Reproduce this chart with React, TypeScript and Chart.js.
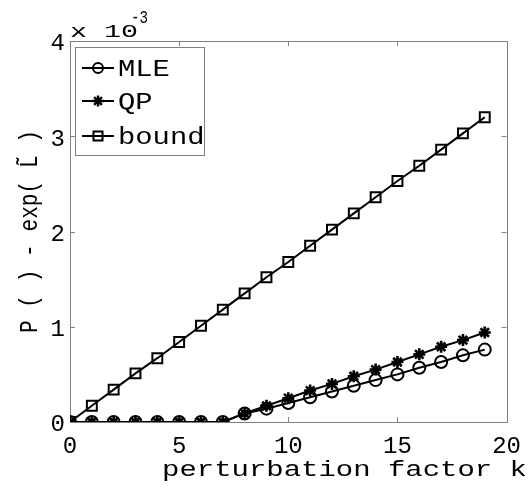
import React, { useEffect, useRef } from "react";
import { Chart, registerables } from "chart.js";

Chart.register(...registerables);

// perturbation factor k
const kValues = [0, 1, 2, 3, 4, 5, 6, 7, 8, 9, 10, 11, 12, 13, 14, 15, 16, 17, 18, 19];
// values in units of 1e-3
const mleValues = [0, 0, 0, 0, 0, 0, 0, 0, 0.09, 0.14, 0.2, 0.26, 0.32, 0.38, 0.44, 0.5, 0.57, 0.63, 0.7, 0.76];
const qpValues = [0, 0, 0, 0, 0, 0, 0, 0, 0.09, 0.17, 0.25, 0.33, 0.4, 0.48, 0.55, 0.63, 0.71, 0.79, 0.86, 0.94];
const boundValues = [0, 0.17, 0.34, 0.51, 0.67, 0.84, 1.01, 1.18, 1.35, 1.52, 1.68, 1.85, 2.02, 2.19, 2.36, 2.53, 2.69, 2.86, 3.03, 3.2];
const seriesLabels = ["MLE", "QP", "bound"];
const seriesMarkers = ["circle", "star", "rect"];
const xMin = 0, xMax = 20, xStep = 5;
const yMin = 0, yMax = 4, yStep = 1;
const xTitle = "perturbation factor k";
const yTitle = "P ( ) - exp( L\u0303 )";
const exponentBase = "x 10";
const exponentPower = "-3";

const MONO = "'Liberation Mono', 'DejaVu Sans Mono', monospace";

// draws text horizontally scaled so that it spans exactly `width` px
function drawFit(
  ctx: CanvasRenderingContext2D,
  text: string,
  x: number,
  y: number,
  size: number,
  width: number,
  baseline: CanvasTextBaseline = "alphabetic"
) {
  ctx.save();
  ctx.font = `${size}px ${MONO}`;
  const w = ctx.measureText(text).width || 1;
  ctx.translate(x, y);
  ctx.scale(width / w, 1);
  ctx.fillStyle = "#000";
  ctx.textAlign = "left";
  ctx.textBaseline = baseline;
  ctx.fillText(text, 0, 0);
  ctx.restore();
}

function drawMarker(ctx: CanvasRenderingContext2D, style: string, cx: number, cy: number) {
  ctx.save();
  ctx.strokeStyle = "#000";
  ctx.lineWidth = 2;
  ctx.beginPath();
  if (style === "circle") {
    ctx.arc(cx, cy, 5, 0, Math.PI * 2);
  } else if (style === "rect") {
    ctx.rect(cx - 4.5, cy - 4.5, 9, 9);
  } else {
    const r = 5.5;
    ctx.lineWidth = 2.4;
    for (let i = 0; i < 4; i++) {
      const a = (i * Math.PI) / 4;
      ctx.moveTo(cx + r * Math.cos(a), cy + r * Math.sin(a));
      ctx.lineTo(cx - r * Math.cos(a), cy - r * Math.sin(a));
    }
  }
  ctx.stroke();
  ctx.restore();
}

const framePlugin = {
  id: "matlabFrame",
  beforeDatasetsDraw(chart: any) {
    const { ctx, chartArea: a, scales } = chart;
    ctx.save();
    ctx.strokeStyle = "#808080";
    ctx.lineWidth = 1;
    ctx.strokeRect(Math.round(a.left) + 0.5, Math.round(a.top) + 0.5, Math.round(a.right - a.left), Math.round(a.bottom - a.top));
    ctx.beginPath();
    const tl = 5;
    scales.x.ticks.forEach((t: any) => {
      const px = Math.round(scales.x.getPixelForValue(t.value)) + 0.5;
      ctx.moveTo(px, a.bottom);
      ctx.lineTo(px, a.bottom - tl);
      ctx.moveTo(px, a.top);
      ctx.lineTo(px, a.top + tl);
    });
    scales.y.ticks.forEach((t: any) => {
      const py = Math.round(scales.y.getPixelForValue(t.value)) + 0.5;
      ctx.moveTo(a.left, py);
      ctx.lineTo(a.left + tl, py);
      ctx.moveTo(a.right, py);
      ctx.lineTo(a.right - tl, py);
    });
    ctx.stroke();
    ctx.restore();
  },
  afterDatasetsDraw(chart: any) {
    const { ctx, chartArea: a } = chart;
    // legend box
    const bx = a.left + 5, by = a.top + 6, bw = 129, bh = 108;
    ctx.save();
    ctx.fillStyle = "#fff";
    ctx.fillRect(bx, by, bw, bh);
    ctx.strokeStyle = "#808080";
    ctx.lineWidth = 1;
    ctx.strokeRect(bx + 0.5, by + 0.5, bw, bh);
    const rows = [21, 54, 89];
    chart.data.datasets.forEach((ds: any, i: number) => {
      const cy = by + rows[i];
      ctx.strokeStyle = "#000";
      ctx.lineWidth = 2;
      ctx.beginPath();
      ctx.moveTo(bx + 7, cy);
      ctx.lineTo(bx + 39, cy);
      ctx.stroke();
      drawMarker(ctx, ds.pointStyle, bx + 23, cy);
      drawFit(ctx, ds.label, bx + 43, cy + 8, 23, 17.3 * ds.label.length);
    });
    ctx.restore();
  },
  afterDraw(chart: any) {
    const { ctx, chartArea: a } = chart;
    // x-axis title
    drawFit(ctx, xTitle, 162, 476, 22, 365);
    // y-axis title (rotated)
    ctx.save();
    ctx.font = `26px ${MONO}`;
    const w = ctx.measureText(yTitle).width || 1;
    const len = 203;
    ctx.translate(30, (a.top + a.bottom) / 2);
    ctx.rotate(-Math.PI / 2);
    ctx.scale(len / w, 1);
    ctx.fillStyle = "#000";
    ctx.textAlign = "center";
    ctx.textBaseline = "middle";
    ctx.fillText(yTitle, 0, 0);
    ctx.restore();
    // exponent
    drawFit(ctx, exponentBase, a.left, 37, 18, 68);
    drawFit(ctx, exponentPower, a.left + 61, 23, 18, 17);
  },
};

export default function App() {
  const ref = useRef<HTMLCanvasElement>(null);
  useEffect(() => {
    document.body.style.margin = "0";
    const canvas = ref.current!;
    const toPts = (vals: number[]) => kValues.map((k, i) => ({ x: k, y: vals[i] }));
    const seriesValues = [mleValues, qpValues, boundValues];
    const radii = [6, 6, 7];
    const pointWidths = [2, 2.6, 2];
    const chart = new Chart(canvas, {
      type: "line",
      data: {
        datasets: seriesLabels.map((label, i) => ({
          label,
          data: toPts(seriesValues[i]),
          borderColor: "#000",
          borderWidth: 2,
          pointStyle: seriesMarkers[i] as any,
          pointRadius: radii[i],
          pointBorderWidth: pointWidths[i],
          pointBorderColor: "#000",
          pointBackgroundColor: "rgba(0,0,0,0)",
          tension: 0,
          fill: false,
        })),
      },
      options: {
        animation: false,
        responsive: false,
        events: [],
        layout: { padding: { top: 41, right: 19, left: 0, bottom: 0 } },
        plugins: { legend: { display: false }, tooltip: { enabled: false } },
        scales: {
          x: {
            type: "linear",
            min: xMin,
            max: xMax,
            ticks: {
              stepSize: xStep,
              color: "#000",
              padding: 10,
              font: { family: MONO, size: 24 },
            },
            grid: { display: false, drawTicks: false },
            border: { display: false },
            afterFit: (s: any) => {
              s.height = 65;
            },
          },
          y: {
            type: "linear",
            min: yMin,
            max: yMax,
            ticks: {
              stepSize: yStep,
              color: "#000",
              padding: 5,
              labelOffset: 3,
              font: { family: MONO, size: 24 },
            },
            grid: { display: false, drawTicks: false },
            border: { display: false },
            afterFit: (s: any) => {
              s.width = 70;
            },
          },
        },
      },
      plugins: [framePlugin],
    });
    return () => chart.destroy();
  }, []);
  return (
    <div style={{ width: 531, height: 487 }}>
      <canvas ref={ref} width={531} height={487} style={{ display: "block" }} />
    </div>
  );
}
